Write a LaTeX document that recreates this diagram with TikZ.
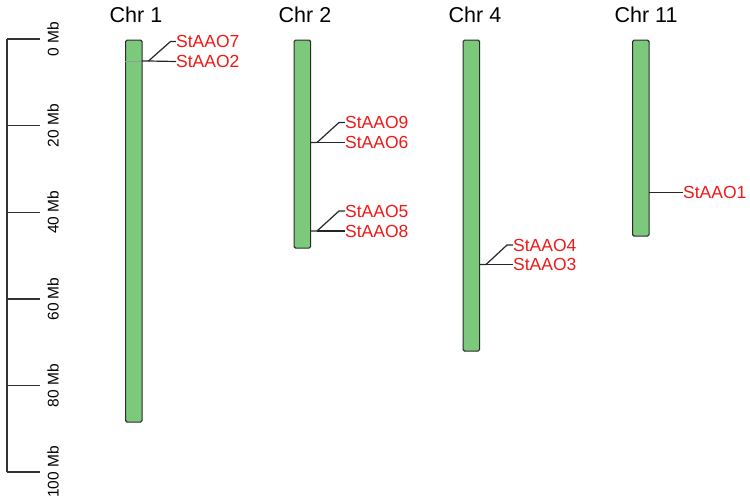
\documentclass[tikz,border=0pt]{standalone}
\usepackage{fontspec}
\setmainfont{Liberation Sans}
\definecolor{chrgreen}{HTML}{7CC97C}
\definecolor{chredge}{HTML}{2A2A2A}
\definecolor{genered}{HTML}{F01818}
\begin{document}
\begin{tikzpicture}[x=1pt,y=-1pt,
  chrom/.style={draw=chredge,line width=1.1pt,fill=chrgreen,rounded corners=1.5pt,anchor=north west,inner sep=0pt,minimum width=16.5pt},
  ax/.style={draw=black!80,line width=1.4pt},
  mblabel/.style={rotate=90,font=\fontsize{15.5}{18}\selectfont,inner sep=0pt},
  chrtitle/.style={font=\fontsize{21.5}{24}\selectfont,inner sep=0pt},
  gene/.style={text=genered,font=\fontsize{17.5}{20}\selectfont,anchor=west,inner sep=0pt},
  conn/.style={draw=black!85,line width=1.2pt}]
\useasboundingbox (0,0) rectangle (750,501);
% scale axis
\coordinate (atop) at (7,39);
\coordinate (abot) at (7,472);
\draw[ax] (atop) -- (abot);
\foreach \v/\y in {0/39,20/125.7,40/212.3,60/299,80/385.7,100/472}{
  \coordinate (t\v) at (7,\y);
  \coordinate (te\v) at (40,\y);
  \draw[ax] (t\v) -- (te\v);
  \node[mblabel] (l\v) at (53,\y) {\v{} Mb};
}
% chromosomes
\node[chrom,minimum height=382pt] (c1) at (125,39.5) {};
\node[chrom,minimum height=208pt] (c2) at (293.5,39.5) {};
\node[chrom,minimum height=311pt] (c4) at (462.5,39.5) {};
\node[chrom,minimum height=196pt] (c11) at (632,39.5) {};
% titles
\node[chrtitle] (h1) at (136,15) {Chr 1};
\node[chrtitle] (h2) at (305,15) {Chr 2};
\node[chrtitle] (h4) at (475,15) {Chr 4};
\node[chrtitle] (h11) at (646,15) {Chr 11};
% Chr 1 genes at y=61
\coordinate (g1a) at (125,61);
\coordinate (g1b) at (141.5,61);
\coordinate (g1k) at (148.5,61);
\coordinate (g1d) at (170.5,41.5);
\draw[line width=0.5pt,draw=black!40] (g1a) -- (g1b);
\node[gene] (n7) at (176,41.5) {StAAO7};
\node[gene] (n2) at (176,61.5) {StAAO2};
\draw[conn] (g1b) -- (g1k) -- (g1d) -- (n7.west);
\draw[conn] (g1k) -- (n2.west);
% Chr 2 genes at y=142.5 and 231
\coordinate (g2b) at (310,142.5);
\coordinate (g2k) at (317,142.5);
\coordinate (g2d) at (339,122.5);
\node[gene] (n9) at (345,122.5) {StAAO9};
\node[gene] (n6) at (345,142.5) {StAAO6};
\draw[conn] (g2b) -- (g2k) -- (g2d) -- (n9.west);
\draw[conn] (g2k) -- (n6.west);
\coordinate (g3b) at (310,231);
\coordinate (g3k) at (317,231);
\coordinate (g3d) at (339,211);
\node[gene] (n5) at (345,211) {StAAO5};
\node[gene] (n8) at (345,231) {StAAO8};
\draw[conn] (g3b) -- (g3k) -- (g3d) -- (n5.west);
\draw[conn] (g3k) -- (n8.west);
% Chr 4 genes at y=264.5
\coordinate (g4b) at (479,264.5);
\coordinate (g4k) at (486,264.5);
\coordinate (g4d) at (507,245);
\node[gene] (n4) at (513,245) {StAAO4};
\node[gene] (n3) at (513,264.5) {StAAO3};
\draw[conn] (g4b) -- (g4k) -- (g4d) -- (n4.west);
\draw[conn] (g4k) -- (n3.west);
% Chr 11 gene at y=192.5
\coordinate (g5b) at (648.5,192.5);
\node[gene] (n1) at (683,192.5) {StAAO1};
\draw[conn] (g5b) -- (n1.west);
\end{tikzpicture}
\end{document}
